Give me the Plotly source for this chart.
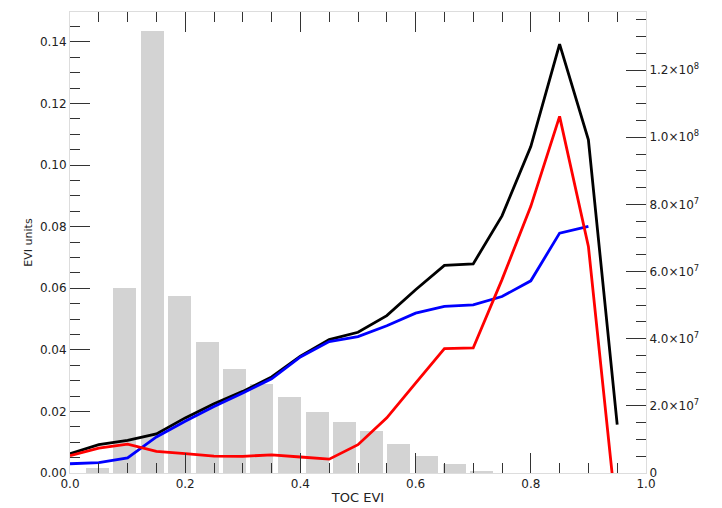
import plotly.graph_objects as go

# ---- data ----
toc_evi = [0.00, 0.05, 0.10, 0.15, 0.20, 0.25, 0.30, 0.35, 0.40, 0.45,
           0.50, 0.55, 0.60, 0.65, 0.70, 0.75, 0.80, 0.85, 0.90, 0.95]
black_vals = [0.0063, 0.0092, 0.0106, 0.0127, 0.0179, 0.0225, 0.0265, 0.0312, 0.0379, 0.0433,
              0.0457, 0.0511, 0.0595, 0.0674, 0.0679, 0.0835, 0.1060, 0.1393, 0.1082, 0.0157]
red_vals = [0.0056, 0.0081, 0.0094, 0.0070, 0.0063, 0.0055, 0.0054, 0.0059, 0.0052, 0.0045,
            0.0092, 0.0179, 0.0292, 0.0404, 0.0406, 0.0628, 0.0866, 0.1158, 0.0736, -0.0160]
blue_x = [0.00, 0.05, 0.10, 0.15, 0.20, 0.25, 0.30, 0.35, 0.40, 0.45,
          0.50, 0.55, 0.60, 0.65, 0.70, 0.75, 0.80, 0.85, 0.90]
blue_vals = [0.0030, 0.0034, 0.0049, 0.0117, 0.0168, 0.0216, 0.0260, 0.0306, 0.0377, 0.0427,
             0.0443, 0.0478, 0.0519, 0.0541, 0.0546, 0.0573, 0.0624, 0.0779, 0.0801]

hist_x = [0.048, 0.095, 0.143, 0.190, 0.238, 0.286, 0.333, 0.381, 0.429, 0.476,
          0.524, 0.571, 0.619, 0.667, 0.714]
hist_counts = [1.5e6, 5.51e7, 1.315e8, 5.28e7, 3.91e7, 3.10e7, 2.66e7, 2.26e7, 1.83e7, 1.52e7,
               1.25e7, 8.6e6, 5.1e6, 2.7e6, 4e5]

x_ticks = [0.0, 0.2, 0.4, 0.6, 0.8, 1.0]
left_ticks = [0.00, 0.02, 0.04, 0.06, 0.08, 0.10, 0.12, 0.14]
right_tickvals = [0, 2e7, 4e7, 6e7, 8e7, 1e8, 1.2e8]
right_ticktext = ["0", "2.0×10<sup>7</sup>", "4.0×10<sup>7</sup>", "6.0×10<sup>7</sup>",
                  "8.0×10<sup>7</sup>", "1.0×10<sup>8</sup>", "1.2×10<sup>8</sup>"]

FONT = "DejaVu Sans"
AXLINE = "#dddddd"

fig = go.Figure()
fig.add_trace(go.Bar(x=hist_x, y=hist_counts, width=0.04, marker=dict(color="#d3d3d3", line=dict(width=0)),
                     xaxis="x", yaxis="y", showlegend=False))
fig.add_trace(go.Scatter(x=toc_evi, y=black_vals, mode="lines", line=dict(color="black", width=2.8),
                         xaxis="x", yaxis="y2", showlegend=False))
fig.add_trace(go.Scatter(x=blue_x, y=blue_vals, mode="lines", line=dict(color="#0000ff", width=2.8),
                         xaxis="x", yaxis="y2", showlegend=False))
fig.add_trace(go.Scatter(x=toc_evi, y=red_vals, mode="lines", line=dict(color="#ff0000", width=2.8),
                         xaxis="x", yaxis="y2", showlegend=False))

fig.update_layout(
    width=722, height=508,
    margin=dict(l=70, r=76, t=12, b=35),
    paper_bgcolor="white", plot_bgcolor="white",
    font=dict(family=FONT, size=12, color="#222222"),
    bargap=0,
    xaxis=dict(
        range=[0, 1], tickvals=x_ticks, ticktext=[f"{v:.1f}" for v in x_ticks],
        ticks="inside", ticklen=20, tickwidth=1, tickcolor="#333333",
        minor=dict(dtick=0.05, tick0=0, ticks="inside", ticklen=10, tickcolor="#333333"),
        showline=True, linecolor=AXLINE, linewidth=1, mirror="ticks",
        showgrid=False, zeroline=False, automargin=False,
        title=dict(text="TOC EVI", font=dict(size=13), standoff=2),
        tickfont=dict(size=12),
    ),
    yaxis=dict(
        side="right", range=[0, 1.373e8],
        tickvals=right_tickvals, ticktext=right_ticktext,
        ticks="inside", ticklen=20, tickcolor="#333333",
        minor=dict(dtick=5e6, tick0=0, ticks="inside", ticklen=10, tickcolor="#333333"),
        showline=True, linecolor=AXLINE, linewidth=1,
        showgrid=False, zeroline=False, automargin=False,
        tickfont=dict(size=12),
    ),
    yaxis2=dict(
        overlaying="y", side="left", range=[0, 0.1497],
        tickvals=left_ticks, ticktext=[f"{v:.2f}" for v in left_ticks],
        ticks="inside", ticklen=20, tickcolor="#333333",
        minor=dict(dtick=0.005, tick0=0, ticks="inside", ticklen=10, tickcolor="#333333"),
        showline=True, linecolor=AXLINE, linewidth=1,
        showgrid=False, zeroline=False, automargin=False,
        title=dict(text="EVI units", font=dict(size=11), standoff=5),
        tickfont=dict(size=12),
    ),
)

fig.write_html("out.html")
